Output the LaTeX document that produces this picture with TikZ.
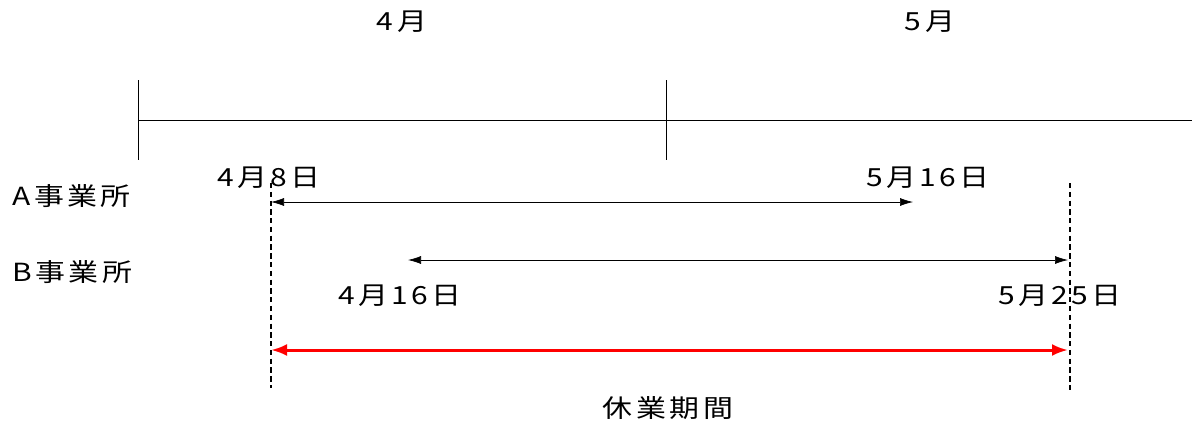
\documentclass[tikz,border=0pt]{standalone}
\usepackage{fontspec}
\newfontfamily\jpfont[LetterSpace=14,FakeStretch=1.2]{Noto Sans CJK JP}
\usetikzlibrary{arrows.meta}

\tikzset{
  lbl/.style={font=\jpfont\fontsize{14.2}{16}\selectfont, inner sep=0pt},
  span/.style={{Latex[length=2.6mm,width=1.6mm]}-{Latex[length=2.6mm,width=1.6mm]}, thin},
  guide/.style={densely dashed, thick},
}

\begin{document}
\begin{tikzpicture}[x=0.02cm,y=-0.02cm]
        \useasboundingbox (0,0) rectangle (1192,423);
        % time axis and month ticks
        \coordinate (axisL) at (138,120);
        \coordinate (axisR) at (1192,120);
        \draw (axisL) -- (axisR);
        \draw (138,80) -- (138,160);
        \draw (666,80) -- (666,160);
        \node[lbl] (apr) at (402,22) {4月};
        \node[lbl] (may) at (930,22) {5月};
        % offices
        \node[lbl, anchor=west] (offA) at (12,196) {A事業所};
        \node[lbl, anchor=west] (offB) at (12,272) {B事業所};
        % A: 4/8 - 5/16
        \coordinate (aS) at (271,202);
        \coordinate (aE) at (913,202);
        \draw[span] (aS) -- (aE);
        \node[lbl] (aSlbl) at (269,178) {4月8日};
        \node[lbl] (aElbl) at (928,178) {5月16日};
        % B: 4/16 - 5/25
        \coordinate (bS) at (408,260);
        \coordinate (bE) at (1068,260);
        \draw[span] (bS) -- (bE);
        \node[lbl] (bSlbl) at (400,296) {4月16日};
        \node[lbl] (bElbl) at (1060,296) {5月25日};
        % guides
        \coordinate (g1t) at (271,183);
        \coordinate (g1b) at (271,388);
        \coordinate (g2t) at (1070,183);
        \coordinate (g2b) at (1070,390);
        \draw[guide] (g1t) -- (g1b);
        \draw[guide] (g2t) -- (g2b);
        % closure period
        \coordinate (cS) at (271,350);
        \coordinate (cE) at (1068,350);
        \draw[red, line width=1.7pt, {Latex[length=3.2mm,width=2.4mm]}-{Latex[length=3.2mm,width=2.4mm]}] (cS) -- (cE);
        \node[lbl] (closed) at (668,408) {休業期間};
\end{tikzpicture}
\end{document}
